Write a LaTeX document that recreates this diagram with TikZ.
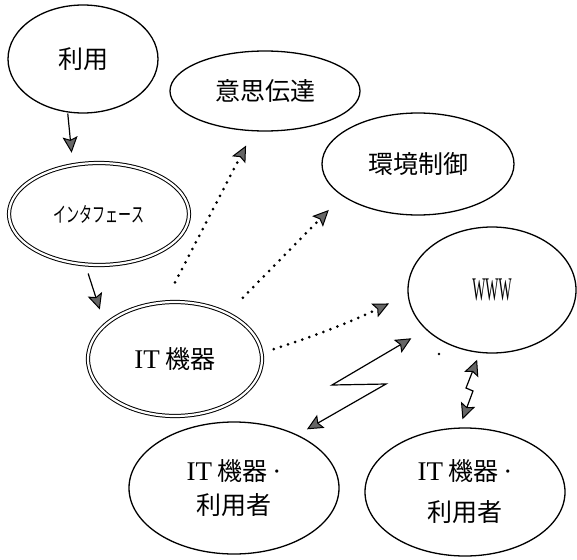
\documentclass[tikz,border=0pt]{standalone}
\usepackage{fontspec}
\usepackage{graphicx}
\setmainfont{Liberation Serif}
\newfontfamily\jpfont{Noto Sans CJK JP}
\usetikzlibrary{shapes.geometric,arrows.meta}
\tikzset{
  ell/.style={ellipse, draw=black, line width=1.3pt, inner sep=0pt,
    font=\jpfont\fontsize{25}{25}\selectfont},
  dbl/.style={ellipse, draw=black, line width=1pt, double=white, double distance=2.2pt,
    inner sep=0pt, font=\jpfont\fontsize{25}{25}\selectfont},
  solidarr/.style={line width=1.2pt,
    -{Stealth[length=16pt,width=15pt,inset=3pt,line width=1pt,fill=black!60,color=black]}},
  dotarr/.style={line width=3pt, dash pattern=on 0pt off 7.5pt, line cap=round,
    -{Stealth[length=16pt,width=15pt,inset=3pt,line width=1pt,fill=black!60,color=black]}},
  zigarr/.style={line width=1.2pt, line join=miter,
    {Stealth[length=16pt,width=15pt,inset=3pt,line width=1pt,fill=black!60,color=black]}-{Stealth[length=16pt,width=15pt,inset=3pt,line width=1pt,fill=black!60,color=black]}},
}
\begin{document}
\begin{tikzpicture}[x=1pt,y=-1pt]
\useasboundingbox (0,0) rectangle (577,559);

% nodes
\node[ell, minimum width=150pt, minimum height=108pt] (riyo) at (83,59) {利用};
\node[dbl, minimum width=180pt, minimum height=102pt] (if) at (99,214)
  {\scalebox{0.62}[1]{\fontsize{21}{21}\selectfont インタフェース}};
\node[dbl, minimum width=174pt, minimum height=114pt] (it) at (175,359)
  {{\rmfamily\fontsize{27}{27}\selectfont IT} 機器};
\node[ell, minimum width=190pt, minimum height=80pt] (ishi) at (265,91) {意思伝達};
\node[ell, minimum width=192pt, minimum height=102pt] (kankyo) at (418,164) {環境制御};
\node[ell, minimum width=168pt, minimum height=126pt] (www) at (492,290)
  {\scalebox{0.42}[1]{\rmfamily\fontsize{33}{33}\selectfont WWW}};
\node[ell, minimum width=210pt, minimum height=132pt, align=center,
  font=\jpfont\fontsize{25}{34}\selectfont] (u1) at (234,488)
  {{\rmfamily\fontsize{27}{34}\selectfont IT} 機器{\rmfamily\fontsize{27}{34}\selectfont\,·}\\利用者};
\node[ell, minimum width=200pt, minimum height=128pt, align=center,
  font=\jpfont\fontsize{25}{41}\selectfont] (u2) at (465,492)
  {{\rmfamily\fontsize{27}{41}\selectfont IT} 機器{\rmfamily\fontsize{27}{41}\selectfont\,·}\\利用者};

% bend points of the zigzag connectors
\coordinate (k1) at (332,385);
\coordinate (k2) at (386,384);
\coordinate (j1) at (466,388);
\coordinate (j2) at (473,391);

% solid arrows
\draw[solidarr, shorten <=1pt, shorten >=12pt] (riyo.254) -- (if.118);
\draw[solidarr, shorten <=9pt, shorten >=16pt] (if.255) -- (it.154);

% dotted arrows
\draw[dotarr, shorten <=22pt, shorten >=16pt] (it.100) -- (ishi.254);
\draw[dotarr, shorten <=21.5pt, shorten >=19.4pt] (it.41) -- (kankyo.203);
\draw[dotarr, shorten <=12.4pt, shorten >=20.7pt] (it.4) to[bend right=4] (www.183);

% zigzag double arrows
\draw[zigarr, shorten <=16.8pt, shorten >=10.9pt] (www.211) -- (k1) -- (k2) -- (u1.40);
\draw[zigarr, shorten <=7.2pt, shorten >=8.7pt] (www.259) -- (j1) -- (j2) -- (u2.95);

% stray dot
\fill (439,354) circle (1.3pt);
\end{tikzpicture}
\end{document}
